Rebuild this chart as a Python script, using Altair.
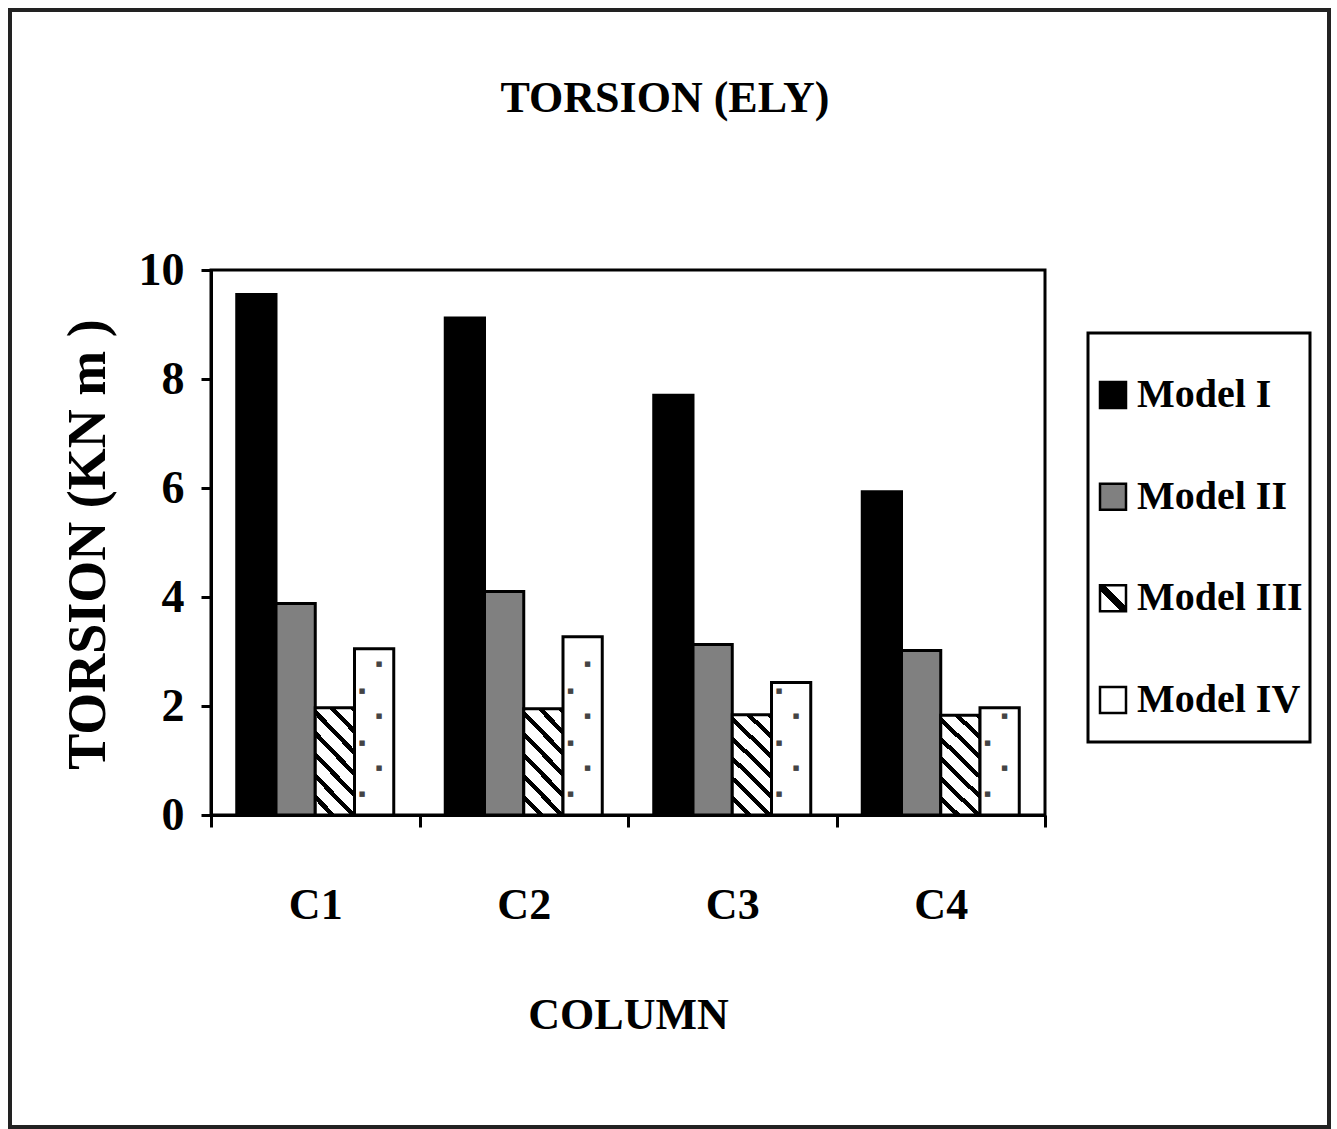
import altair as alt
import pandas as pd

# ---- data ----
columns = ["C1", "C2", "C3", "C4"]
models = ["Model I", "Model II", "Model III", "Model IV"]
model_i = [9.55, 9.12, 7.70, 5.93]
model_ii = [3.88, 4.10, 3.13, 3.02]
model_iii = [1.97, 1.95, 1.84, 1.83]
model_iv = [3.05, 3.27, 2.43, 1.97]
y_ticks = [0, 2, 4, 6, 8, 10]
chart_title = ["TORSION (ELY)"]

rows = []
for i, c in enumerate(columns):
    for m, vals in zip(models, [model_i, model_ii, model_iii, model_iv]):
        rows.append({"column": c, "model": m, "value": vals[i]})
df = pd.DataFrame(rows)
legend_df = pd.DataFrame({"model": models})
one_row = pd.DataFrame({"k": [0]})
title_df = pd.DataFrame({"title": chart_title})

FONT = "Liberation Serif"


def stripes(n, black_frac, x1, y1, x2, y2):
    stops = []
    for k in range(n):
        a = k / n
        b = (k + 1 - black_frac) / n
        c = (k + 1) / n
        stops += [
            alt.GradientStop(offset=a, color="white"),
            alt.GradientStop(offset=b, color="white"),
            alt.GradientStop(offset=b, color="black"),
            alt.GradientStop(offset=c, color="black"),
        ]
    return alt.LinearGradient(gradient="linear", stops=stops, x1=x1, y1=y1, x2=x2, y2=y2)


hatch_bar = stripes(7, 0.3, 0, 1, 0.46, -0.21)
hatch_legend = alt.LinearGradient(
    gradient="linear",
    stops=[
        alt.GradientStop(offset=0, color="white"),
        alt.GradientStop(offset=0.4, color="white"),
        alt.GradientStop(offset=0.4, color="black"),
        alt.GradientStop(offset=0.6, color="black"),
        alt.GradientStop(offset=0.6, color="white"),
        alt.GradientStop(offset=1, color="white"),
    ],
    x1=0, y1=1, x2=1, y2=0,
)

fills = {
    "Model I": "black",
    "Model II": "#808080",
    "Model III": hatch_bar,
    "Model IV": "white",
}
legend_fills = {
    "Model I": "black",
    "Model II": "#808080",
    "Model III": hatch_legend,
    "Model IV": "white",
}

x_enc = alt.X(
    "column:N",
    sort=columns,
    scale=alt.Scale(domain=columns, paddingInner=0, paddingOuter=0),
    axis=alt.Axis(
        title="COLUMN",
        tickBand="extent",
        labelAngle=0,
        labelFont=FONT,
        labelFontSize=44,
        labelFontWeight="bold",
        labelColor="black",
        labelPadding=56,
        tickSize=12,
        tickWidth=3,
        tickColor="black",
        domainWidth=3,
        domainColor="black",
        titleFont=FONT,
        titleFontSize=44,
        titleFontWeight="bold",
        titleColor="black",
        titleY=200,
        titleBaseline="middle",
    ),
)
xoff = alt.XOffset(
    "model:N",
    sort=models,
    scale=alt.Scale(domain=models, paddingInner=0, paddingOuter=0.656),
)
y_axis = alt.Axis(
    values=y_ticks,
    title="TORSION (KN m )",
    labelFont=FONT,
    labelFontSize=46,
    labelFontWeight="bold",
    labelColor="black",
    labelPadding=17,
    tickSize=10,
    tickWidth=3,
    tickColor="black",
    domainWidth=3,
    domainColor="black",
    grid=False,
    titleFont=FONT,
    titleFontSize=54,
    titleFontWeight="bold",
    titleColor="black",
    titleX=-123,
    titleY=274,
    titleBaseline="middle",
    titleAlign="center",
    titleAngle=270,
)
y_scale = alt.Scale(domain=[0, 10], nice=False)

bar_layers = []
for m in models:
    bar_layers.append(
        alt.Chart(df)
        .transform_filter(alt.datum.model == m)
        .mark_bar(fill=fills[m], stroke="black", strokeWidth=3)
        .encode(
            x=x_enc,
            xOffset=xoff,
            y=alt.Y("value:Q", scale=y_scale, axis=y_axis),
        )
    )

# dotted pattern of Model IV bars
dot_layers = []
for start, dx in [(0.87, 5), (0.38, -12)]:
    dot_layers.append(
        alt.Chart(df)
        .transform_filter(alt.datum.model == "Model IV")
        .transform_calculate(dots=f"sequence({start}, datum.value - 0.15, 0.95)")
        .transform_flatten(["dots"])
        .mark_text(text="■", fontSize=7, color="#444", dx=dx, baseline="middle", font="DejaVu Sans")
        .encode(
            x=x_enc,
            xOffset=xoff,
            y=alt.Y("dots:Q", scale=y_scale, axis=y_axis),
        )
    )

main = alt.layer(*bar_layers, *dot_layers)

# ---- legend ----
leg_y = alt.Y(
    "model:N",
    sort=models,
    scale=alt.Scale(type="point", domain=models, range=[125, 430], padding=0),
    axis=None,
)
legend_box = alt.Chart(one_row).mark_rect(fill="white", stroke="black", strokeWidth=3).encode(
    x=alt.value(877), x2=alt.value(1099), y=alt.value(63), y2=alt.value(472)
)
swatches = []
for m in models:
    swatches.append(
        alt.Chart(legend_df)
        .transform_filter(alt.datum.model == m)
        .mark_square(
            size=676,
            fill=legend_fills[m],
            fillOpacity=1,
            stroke="black",
            strokeWidth=2.5,
            opacity=1,
        )
        .encode(x=alt.value(902), y=leg_y)
    )
legend_text = (
    alt.Chart(legend_df)
    .mark_text(
        align="left",
        baseline="middle",
        font=FONT,
        fontSize=40,
        fontWeight="bold",
        color="black",
    )
    .encode(x=alt.value(926), y=leg_y, text="model:N")
)
legend = alt.layer(legend_box, *swatches, legend_text)

frame = alt.Chart(one_row).mark_rect(filled=False, stroke="#222", strokeWidth=4).encode(
    x=alt.value(-201), x2=alt.value(1118), y=alt.value(-260), y2=alt.value(857)
)

title_mark = (
    alt.Chart(title_df)
    .mark_text(
        align="center",
        baseline="alphabetic",
        font=FONT,
        fontSize=44,
        fontWeight="bold",
        color="black",
    )
    .encode(x=alt.value(454), y=alt.value(-158), text="title:N")
)

chart = (
    alt.layer(frame, title_mark, main, legend)
    .resolve_scale(y="independent")
    .properties(
        width=834,
        height=545,
        autosize=alt.AutoSizeParams(type="none"),
        padding={"left": 211, "top": 270, "right": 292, "bottom": 314},
        background="white",
    )
    .configure_view(stroke="black", strokeWidth=3)
)

chart.save("out.html", embed_options={"renderer": "svg", "actions": False})
